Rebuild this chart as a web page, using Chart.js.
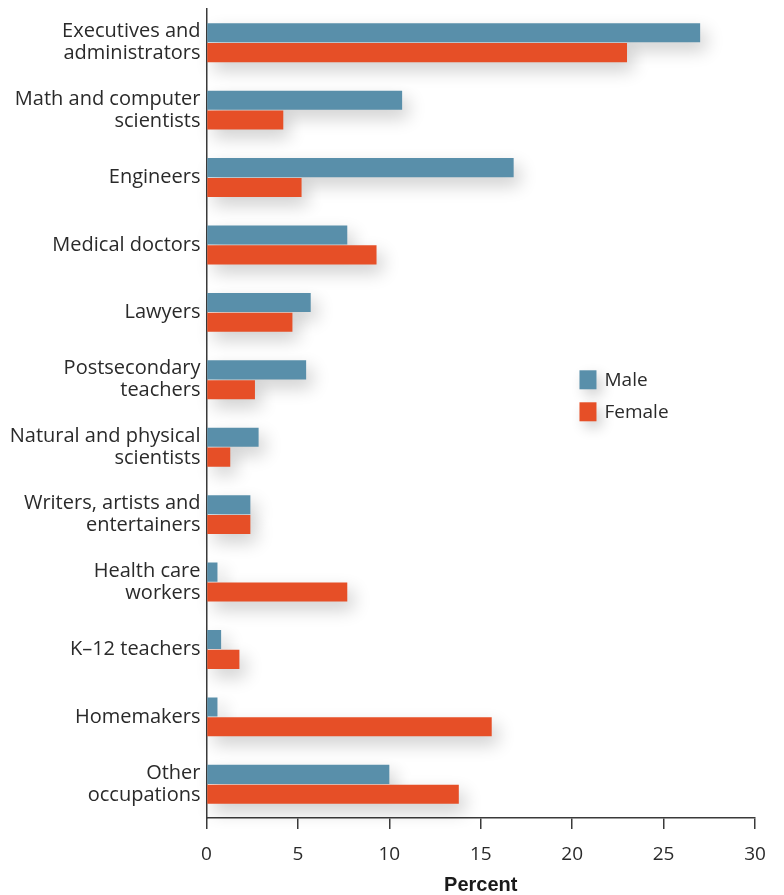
<!DOCTYPE html>
<html>
<head>
<meta charset="utf-8">
<script src="https://cdn.jsdelivr.net/npm/chart.js@4.4.1/dist/chart.umd.min.js"></script>
<style>
  html, body { margin: 0; padding: 0; background: #ffffff; }
  #wrap { width: 784px; height: 895px; position: relative; }
</style>
</head>
<body>
<div id="wrap"><canvas id="c" width="784" height="895"></canvas></div>
<script>
const categories = [
  ["Executives and", "administrators"],
  ["Math and computer", "scientists"],
  ["Engineers"],
  ["Medical doctors"],
  ["Lawyers"],
  ["Postsecondary", "teachers"],
  ["Natural and physical", "scientists"],
  ["Writers, artists and", "entertainers"],
  ["Health care", "workers"],
  ["K\u201312 teachers"],
  ["Homemakers"],
  ["Other", "occupations"]
];
const maleValues   = [27.0, 10.7, 16.8, 7.7, 5.7, 5.45, 2.85, 2.4, 0.6, 0.8, 0.6, 10.0];
const femaleValues = [23.0, 4.2, 5.2, 9.3, 4.7, 2.65, 1.3, 2.4, 7.7, 1.8, 15.6, 13.8];
const xTicks = [0, 5, 10, 15, 20, 25, 30];
const seriesNames = ["Male", "Female"];
const seriesColors = ["#598faa", "#e64f27"];

const FONT = "'Open Sans', 'Liberation Sans', Arial, sans-serif";
const TEXT = "#2a2a2a";
const SHIFT = 10000;

// Draws soft drop shadows for all bars in one pass before the bars themselves
const shadowPlugin = {
  id: 'barShadow',
  beforeDatasetsDraw(chart) {
    const ctx = chart.ctx;
    ctx.save();
    ctx.shadowColor = 'rgba(0,0,0,0.2)';
    ctx.shadowBlur = 18;
    ctx.shadowOffsetX = SHIFT + 6;
    ctx.shadowOffsetY = 8;
    ctx.fillStyle = '#000';
    chart.getSortedVisibleDatasetMetas().forEach(meta => {
      meta.data.forEach(el => {
        const p = el.getProps(['x', 'y', 'base', 'height'], true);
        const left = Math.min(p.x, p.base);
        const w = Math.abs(p.x - p.base);
        ctx.fillRect(left - SHIFT, p.y - p.height / 2, w, p.height);
      });
    });
    ctx.restore();
  }
};

const legendPlugin = {
  id: 'customLegend',
  afterDraw(chart) {
    const ctx = chart.ctx;
    const xs = chart.scales.x, ys = chart.scales.y;
    const left = xs.getPixelForValue(20.4);
    const cy0 = ys.getPixelForValue(5);
    chart.data.datasets.forEach((ds, i) => {
      const cy = cy0 + i * 32;
      ctx.save();
      ctx.shadowColor = 'rgba(0,0,0,0.2)';
      ctx.shadowBlur = 14;
      ctx.shadowOffsetX = 5;
      ctx.shadowOffsetY = 6;
      ctx.fillStyle = ds.backgroundColor;
      ctx.fillRect(left, cy - 9.5, 17, 19);
      ctx.restore();
      ctx.save();
      ctx.fillStyle = TEXT;
      ctx.font = "19px " + FONT;
      ctx.textAlign = 'left';
      ctx.textBaseline = 'middle';
      ctx.fillText(ds.label, left + 25, cy + 1);
      ctx.restore();
    });
  }
};

new Chart(document.getElementById('c'), {
  type: 'bar',
  data: {
    labels: categories,
    datasets: [
      { label: seriesNames[0], data: maleValues, backgroundColor: seriesColors[0] },
      { label: seriesNames[1], data: femaleValues, backgroundColor: seriesColors[1] }
    ]
  },
  options: {
    indexAxis: 'y',
    responsive: false,
    animation: false,
    devicePixelRatio: 1,
    categoryPercentage: 0.59,
    barPercentage: 0.96,
    layout: { padding: { top: 9, right: 29, left: 0, bottom: 0 } },
    plugins: {
      legend: { display: false },
      tooltip: { enabled: false }
    },
    scales: {
      x: {
        min: 0,
        max: 30,
        afterBuildTicks(scale) { scale.ticks = xTicks.map(v => ({ value: v })); },
        afterFit(scale) { scale.height = 77; scale.paddingLeft = 0; scale.paddingRight = 0; },
        grid: { drawOnChartArea: false, drawTicks: true, tickLength: 11, color: '#3a3a3a', lineWidth: 1.5 },
        border: { display: true, color: '#3a3a3a', width: 1.5 },
        ticks: { color: TEXT, font: { family: FONT, size: 19 }, padding: 14, maxRotation: 0 },
        title: { display: true, text: 'Percent', color: '#1a1a1a', font: { family: "'Liberation Sans', Arial, sans-serif", size: 20, weight: 'bold' }, padding: { top: 0, bottom: -2 } }
      },
      y: {
        afterFit(scale) { scale.width = 206.5; scale.paddingTop = 0; scale.paddingBottom = 0; },
        grid: { display: false, drawTicks: false },
        border: { display: true, color: '#3a3a3a', width: 1.5 },
        ticks: { color: TEXT, font: { family: FONT, size: 20, lineHeight: 1.1 }, padding: 6 }
      }
    }
  },
  plugins: [shadowPlugin, legendPlugin]
});
</script>
</body>
</html>
